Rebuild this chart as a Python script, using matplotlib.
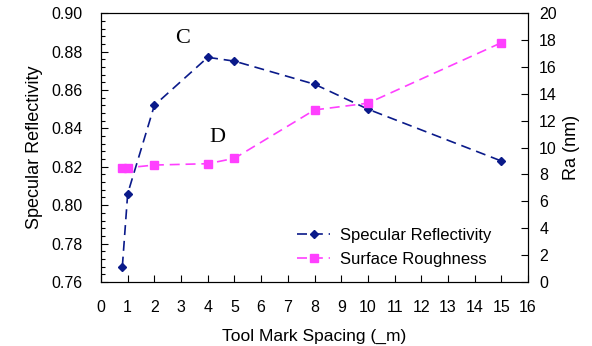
import numpy as np
import matplotlib.pyplot as plt
from matplotlib.ticker import MultipleLocator

plt.rcParams['font.family'] = ['Liberation Sans', 'DejaVu Sans']

# data
spacing = [0.8, 1, 2, 4, 5, 8, 10, 15]
reflectivity = [0.768, 0.806, 0.852, 0.877, 0.875, 0.863, 0.850, 0.823]
rough_x = [0.8, 1, 2, 4, 5, 8, 10, 15]
roughness = [8.5, 8.5, 8.7, 8.8, 9.2, 12.8, 13.3, 17.8]

fig = plt.figure(figsize=(5.92, 3.46), dpi=100)
ax = fig.add_axes([0.1706, 0.185, 0.7214, 0.777])
ax2 = ax.twinx()

l1, = ax.plot(spacing, reflectivity, color='#0a1a8a', ls=(0, (6, 3.5)), lw=1.2,
              marker='D', ms=4.5, label='Specular Reflectivity')
l2, = ax2.plot(rough_x, roughness, color='#ff40ff', ls=(0, (6, 3.5)), lw=1.2,
               marker='s', ms=6, label='Surface Roughness')

ax.set_xlim(0, 16)
ax.set_ylim(0.76, 0.90)
ax2.set_ylim(0, 20)
ax.xaxis.set_major_locator(MultipleLocator(1))
ax.yaxis.set_major_locator(MultipleLocator(0.02))
ax.yaxis.set_minor_locator(MultipleLocator(0.004))
ax2.yaxis.set_major_locator(MultipleLocator(2))
ax.yaxis.set_major_formatter(plt.FormatStrFormatter('%.2f'))

ax.tick_params(axis='both', direction='in', labelsize=11.5, length=5, width=0.8)
ax.tick_params(axis='y', which='minor', direction='in', length=3, width=0.8)
ax.tick_params(axis='x', pad=13)
ax.tick_params(axis='y', pad=13)
ax2.tick_params(axis='y', direction='in', labelsize=11.5, length=5, width=0.8, pad=8)

ax.set_xlabel('Tool Mark Spacing (_m)', fontsize=12.5, labelpad=10)
ax.set_ylabel('Specular Reflectivity', fontsize=13, labelpad=6)
ax2.set_ylabel('Ra (nm)', fontsize=13, labelpad=4)

ax.text(3.07, 0.887, 'C', fontsize=16, family='Liberation Serif', ha='center', va='center')
ax.text(4.35, 0.835, 'D', fontsize=16, family='Liberation Serif', ha='center', va='center')

ax.legend(handles=[l1, l2], loc='lower right', bbox_to_anchor=(0.95, 0.0),
          frameon=False, fontsize=12, handlelength=2.0, handletextpad=0.6,
          labelspacing=0.55)

fig.savefig('out.png', dpi=100)
